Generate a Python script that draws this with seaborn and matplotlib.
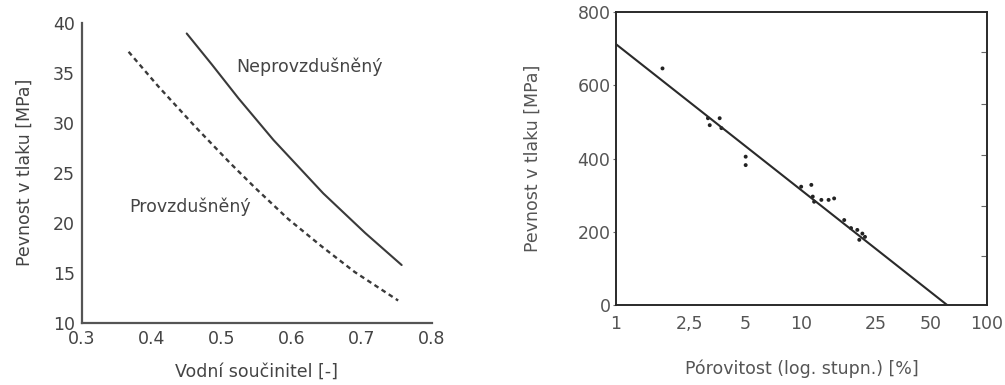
import numpy as np
import pandas as pd
import matplotlib
matplotlib.use("Agg")
import matplotlib.pyplot as plt
import seaborn as sns
from matplotlib.ticker import FixedLocator, NullFormatter

# ---------------- data ----------------
# Left panel: compressive strength vs water-cement ratio
nepro_x = [0.450, 0.486, 0.524, 0.574, 0.645, 0.705, 0.757]
nepro_y = [38.93, 35.82, 32.44, 28.27, 22.94, 18.97, 15.77]
pro_x = [0.367, 0.409, 0.462, 0.512, 0.548, 0.595, 0.643, 0.690, 0.752]
pro_y = [37.10, 33.67, 29.62, 25.97, 23.47, 20.37, 17.62, 15.07, 12.22]
left_xticks = [0.3, 0.4, 0.5, 0.6, 0.7, 0.8]
left_yticks = [10, 15, 20, 25, 30, 35, 40]

# Right panel: compressive strength vs porosity (log scale)
por_x = [1.78, 3.13, 3.2, 3.62, 3.7, 5.0, 5.0, 9.96, 11.3, 11.5, 11.7, 12.8,
         14.0, 15.0, 17.0, 18.5, 20.0, 20.5, 22.0, 21.3]
por_y = [646, 510, 491, 510, 483, 405, 382, 323, 328, 296, 282, 287,
         287, 291, 232, 210, 205, 178, 186, 195]
fit_x = [1, 61]
fit_y = [712, 0]
right_xticks = [1, 2.5, 5, 10, 25, 50, 100]
right_xlabels = ["1", "2,5", "5", "10", "25", "50", "100"]
right_xminor = [7.5, 75]
right_yticks = [0, 200, 400, 600, 800]
right_yticks_r = [135, 270, 410, 550, 690]

# ---------------- style ----------------
sns.set_theme(style="white")
plt.rcParams['font.family'] = ['DejaVu Sans']

fig = plt.figure(figsize=(10.05, 3.85), dpi=100)
c_txt = "#444444"
c_line = "#3a3a3a"
FS = 12.5

# ---------------- left panel ----------------
axL = fig.add_axes([0.0813, 0.1618, 0.3483, 0.779])
dfN = pd.DataFrame({"x": nepro_x, "y": nepro_y})
dfP = pd.DataFrame({"x": pro_x, "y": pro_y})
sns.lineplot(data=dfN, x="x", y="y", ax=axL, color=c_line, lw=1.5)
sns.lineplot(data=dfP, x="x", y="y", ax=axL, color=c_line, lw=1.7,
             linestyle=(0, (2.0, 1.6)))
axL.set_xlim(0.3, 0.8)
axL.set_ylim(10, 40)
axL.set_xticks(left_xticks)
axL.set_xticklabels([f"{v:.1f}" for v in left_xticks])
axL.set_yticks(left_yticks)
for s in ["top", "right"]:
    axL.spines[s].set_visible(False)
for s in ["left", "bottom"]:
    axL.spines[s].set_color("#555555")
    axL.spines[s].set_linewidth(1.6)
axL.tick_params(axis="both", direction="in", length=9, width=1.6, color="#555555",
                labelsize=FS, labelcolor=c_txt, pad=5)
axL.set_xlabel("Vodní součinitel [-]", fontsize=FS, color=c_txt, labelpad=11)
axL.set_ylabel("Pevnost v tlaku [MPa]", fontsize=FS, color=c_txt, labelpad=14)
axL.text(0.626, 35.6, "Neprovzdušněný", fontsize=FS, color=c_txt, ha="center", va="center")
axL.text(0.455, 21.6, "Provzdušněný", fontsize=FS, color=c_txt, ha="center", va="center")

# ---------------- right panel ----------------
axR = fig.add_axes([0.613, 0.2078, 0.369, 0.761])
dfS = pd.DataFrame({"x": por_x, "y": por_y})
dfF = pd.DataFrame({"x": fit_x, "y": fit_y})
sns.lineplot(data=dfF, x="x", y="y", ax=axR, color="#2a2a2a", lw=1.5)
sns.scatterplot(data=dfS, x="x", y="y", ax=axR, color="#222222", s=8,
                edgecolor="none")
axR.set_xscale("log")
axR.set_xlim(1, 100)
axR.set_ylim(0, 800)
axR.xaxis.set_major_locator(FixedLocator(right_xticks))
axR.set_xticklabels(right_xlabels)
axR.xaxis.set_minor_locator(FixedLocator(right_xminor))
axR.xaxis.set_minor_formatter(NullFormatter())
axR.set_yticks(right_yticks)
for s in axR.spines.values():
    s.set_color("#555555")
    s.set_linewidth(1.2)
axR.tick_params(axis="x", which="both", direction="in", length=4, width=0.8,
                color="#666666", labelsize=FS, labelcolor="#555555", pad=7)
axR.tick_params(axis="y", direction="out", length=2, width=0.8, color="#666666",
                labelsize=FS, labelcolor="#555555", pad=2)
axR.set_xlabel("Pórovitost (log. stupn.) [%]", fontsize=FS, color="#555555", labelpad=19)
axR.set_ylabel("Pevnost v tlaku [MPa]", fontsize=FS, color="#555555", labelpad=26)

axR2 = axR.twinx()
axR2.set_ylim(0, 800)
axR2.set_yticks(right_yticks_r)
axR2.set_yticklabels([])
axR2.tick_params(axis="y", direction="in", length=4, width=0.8, color="#666666")
axR2.grid(False)

fig.savefig("out.png", dpi=100)
